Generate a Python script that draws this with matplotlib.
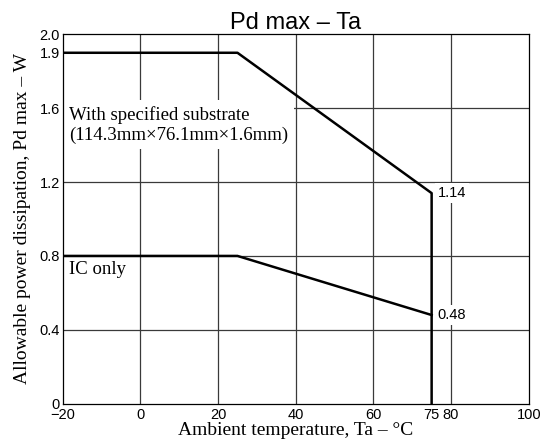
import matplotlib
matplotlib.use("Agg")
import matplotlib.pyplot as plt

# data
temp_substrate = [-20, 25, 75, 75]
pd_substrate = [1.9, 1.9, 1.14, 0.0]
temp_ic = [-20, 25, 75]
pd_ic = [0.8, 0.8, 0.48]

x_ticks = [-20, 0, 20, 40, 60, 75, 80, 100]
x_ticklabels = ["\u221220", "0", "20", "40", "60", "75", "80", "100"]
y_ticks = [0, 0.4, 0.8, 1.2, 1.6, 1.9, 2.0]
y_ticklabels = ["0", "0.4", "0.8", "1.2", "1.6", "1.9", "2.0"]
x_grid = [0, 20, 40, 60, 80]
y_grid = [0.4, 0.8, 1.2, 1.6]

sans = "Liberation Sans"
serif = "Liberation Serif"

fig = plt.figure(figsize=(5.44, 4.42), dpi=100)
ax = fig.add_axes([0.1153, 0.0867, 0.9719 - 0.1153, 0.9224 - 0.0867])

# grid lines only at the round values
for gx in x_grid:
    ax.axvline(gx, color="#3a3a3a", lw=0.9, zorder=1)
for gy in y_grid:
    ax.axhline(gy, color="#3a3a3a", lw=0.9, zorder=1)

ax.plot(temp_substrate, pd_substrate, color="black", lw=1.8, zorder=3)
ax.plot(temp_ic, pd_ic, color="black", lw=1.8, zorder=3)

ax.set_xlim(-20, 100)
ax.set_ylim(0, 2.0)
ax.set_xticks(x_ticks)
ax.set_xticklabels(x_ticklabels, fontfamily=sans, fontsize=10.5)
ax.set_yticks(y_ticks)
ax.set_yticklabels(y_ticklabels, fontfamily=sans, fontsize=10.5)
ax.tick_params(axis="x", length=0, pad=3)
ax.tick_params(axis="y", length=0, pad=2)

for s in ax.spines.values():
    s.set_linewidth(0.9)
    s.set_zorder(5)

box = dict(facecolor="white", edgecolor="none", pad=2)

ax.text(-18.3, 1.612, "With specified substrate\n(114.3mm\u00d776.1mm\u00d71.6mm)",
        fontfamily=serif, fontsize=13.5, ha="left", va="top",
        linespacing=1.2, bbox=dict(facecolor="white", edgecolor="none", pad=4), zorder=4)
ax.text(-18.3, 0.775, "IC only", fontfamily=serif, fontsize=13.5,
        ha="left", va="top", bbox=box, zorder=4)
ax.text(76.5, pd_substrate[2], "1.14", fontfamily=sans, fontsize=10.5,
        ha="left", va="center", bbox=box, zorder=4)
ax.text(76.5, pd_ic[2], "0.48", fontfamily=sans, fontsize=10.5,
        ha="left", va="center", bbox=box, zorder=4)

ax.set_title("Pd max \u2013 Ta", fontfamily=sans, fontsize=17, pad=3)
ax.set_xlabel("Ambient temperature, Ta \u2013 \u00b0C", fontfamily=serif, fontsize=14, labelpad=0)
ax.set_ylabel("Allowable power dissipation, Pd max \u2013 W", fontfamily=serif, fontsize=14, labelpad=6)

fig.savefig("out.png", dpi=100)
